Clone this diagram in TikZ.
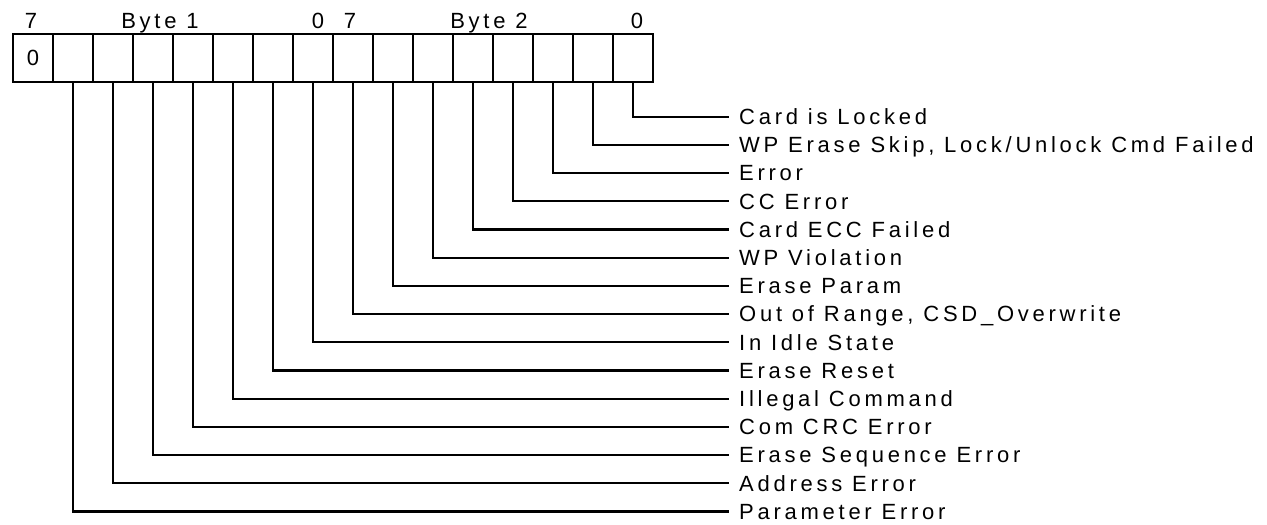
\documentclass[tikz,border=0pt]{standalone}
\usepackage{fontspec}
\setmainfont{Liberation Sans}[LetterSpace=17]

\begin{document}
\begin{tikzpicture}[x=1pt,y=-1pt,
  txt/.style={font=\fontsize{22}{24}\selectfont,inner sep=0pt},
  bitcell/.style={draw,line width=2.3pt,minimum width=40pt,minimum height=48pt,
    inner sep=0pt,font=\fontsize{22}{24}\selectfont},
  flag/.style={txt,anchor=west,inner xsep=10pt,text height=15.5pt,text depth=0pt},
  wire/.style={line width=2.3pt}]
\useasboundingbox (0,0) rectangle (1267,525);
% ---- Kopfzeile: Bitnummern und Bytes ----
\node[txt,anchor=base] (b1hi) at (31,28) {7};
\node[txt,anchor=base] (b1name) at (160,28) {Byte 1};
\node[txt,anchor=base] (b1lo) at (318,28) {0};
\node[txt,anchor=base] (b2hi) at (350,28) {7};
\node[txt,anchor=base] (b2name) at (489,28) {Byte 2};
\node[txt,anchor=base] (b2lo) at (637,28) {0};
% ---- 16 Bitzellen, Zelle 1 fest auf 0 ----
\foreach \i in {1,...,16}{
  \node[bitcell] (c\i) at ({33+40*(\i-1)},58) {\ifnum\i=1 0\fi};
}
% ---- Fehlerbits mit Beschriftung ----
\foreach \i/\lab in {16/Card is Locked,
    15/{WP Erase Skip, Lock/Unlock Cmd Failed},
    14/Error, 13/CC Error, 12/Card ECC Failed, 11/WP Violation,
    10/Erase Param, 9/{Out of Range, CSD\_Overwrite},
    8/In Idle State, 7/Erase Reset, 6/Illegal Command,
    5/Com CRC Error, 4/Erase Sequence Error, 3/Address Error,
    2/Parameter Error}{
  \pgfmathsetmacro\yy{116.7+(16-\i)*28.2}
  \node[flag] (l\i) at (729,\yy) {\lab};
  \draw[wire] (c\i.south) |- (l\i.west);
}
\end{tikzpicture}
\end{document}
